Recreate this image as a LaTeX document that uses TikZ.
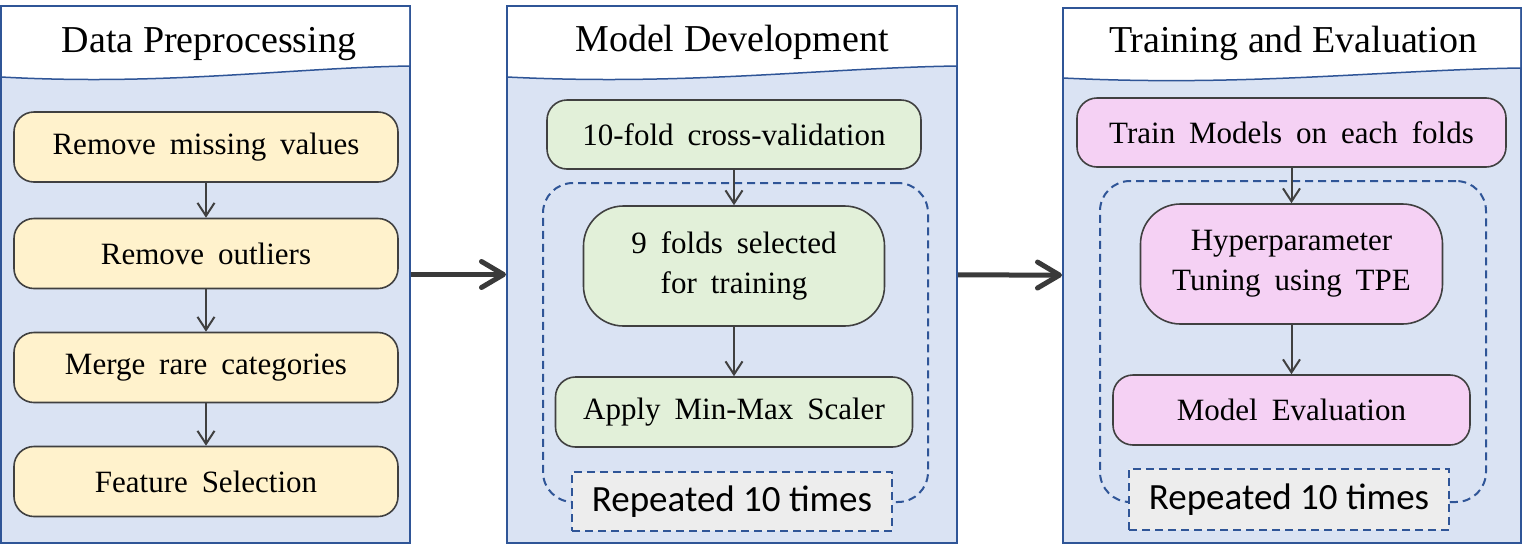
\documentclass[tikz,border=0pt]{standalone}
\usepackage{fontspec}
\setmainfont{Liberation Serif}
\newfontfamily\repfont{Carlito}
\usetikzlibrary{arrows.meta}

\definecolor{panelblue}{HTML}{DAE3F3}
\definecolor{edgeblue}{HTML}{2F5597}
\definecolor{stepyellow}{HTML}{FFF2CC}
\definecolor{stepgreen}{HTML}{E2F0D9}
\definecolor{steppink}{HTML}{F5D1F4}
\definecolor{linegray}{HTML}{404040}
\definecolor{arrowgray}{HTML}{3A3A3A}
\definecolor{repgray}{HTML}{EDEDED}
\newcommand{\widespaces}{\spaceskip=0.45em plus 0.1em\relax}

\begin{document}
\begin{tikzpicture}[x=1pt,y=-1pt,
    panel/.style={shape=rectangle,draw=edgeblue,line width=2pt,fill=panelblue,inner sep=0pt},
    wave/.style={draw=edgeblue,line width=1.5pt},
    headtext/.style={anchor=base,font=\rmfamily\fontsize{38}{44}\selectfont},
    stepbox/.style={shape=rectangle,rounded corners=20pt,draw=linegray,line width=1.6pt,align=center,inner sep=0pt,font=\rmfamily\fontsize{31}{40}\selectfont\widespaces},
    bigbox/.style={stepbox,rounded corners=40pt},
    repeatloop/.style={shape=rectangle,draw=edgeblue,line width=2pt,dash pattern=on 8pt off 5pt,rounded corners=30pt,inner sep=0pt},
    repbox/.style={shape=rectangle,draw=edgeblue,line width=2pt,dash pattern=on 8pt off 5pt,fill=repgray,inner sep=0pt,font=\repfont\fontsize{37}{44}\selectfont},
    >={Straight Barb[length=13pt,width=17pt]},
    flow/.style={->,draw=linegray,line width=2pt},
    bigflow/.style={-{Straight Barb[length=22pt,width=26pt,round]},draw=arrowgray,line width=5pt}]
    \useasboundingbox (0,0) rectangle (1524,547);

    % panels
    \node[panel,minimum width=409pt,minimum height=537pt] (p1) at (205.5,274.5) {};
    \node[panel,minimum width=450pt,minimum height=537pt] (p2) at (732,274.5) {};
    \node[panel,minimum width=458pt,minimum height=535pt] (p3) at (1292,275.5) {};

    % panel headers
    \fill[white] (2,7) -- (2,77) .. controls (165,86) and (287,68) .. (409,66) -- (409,7) -- cycle;
    \draw[wave] (1,77) .. controls (165,86) and (287,68) .. (410,66);
    \fill[white] (508,7) -- (508,77) .. controls (687,86) and (822,68) .. (956,66) -- (956,7) -- cycle;
    \draw[wave] (507,77) .. controls (687,86) and (822,68) .. (957,66);
    \fill[white] (1064,9) -- (1064,78) .. controls (1246,87) and (1384,70) .. (1520,68) -- (1520,9) -- cycle;
    \draw[wave] (1063,78) .. controls (1246,87) and (1384,70) .. (1521,68);

    \node[headtext] (h1) at (209,52) {Data Preprocessing};
    \node[headtext] (h2) at (732,51) {Model Development};
    \node[headtext] (h3) at (1293,52) {Training and Evaluation};

    % data preprocessing
    \node[stepbox,fill=stepyellow,minimum width=384pt,minimum height=70pt] (a1) at (206,147) {Remove missing values};
    \node[stepbox,fill=stepyellow,minimum width=384pt,minimum height=70pt] (a2) at (206,253.5) {Remove outliers};
    \node[stepbox,fill=stepyellow,minimum width=384pt,minimum height=70pt] (a3) at (206,367.5) {Merge rare categories};
    \node[stepbox,fill=stepyellow,minimum width=384pt,minimum height=70pt] (a4) at (206,481.5) {Feature Selection};

    \path [flow] (a1) edge (a2);
    \path [flow] (a2) edge (a3);
    \path [flow] (a3) edge (a4);

    % model development
    \node[repeatloop,minimum width=385pt,minimum height=319pt] (l2) at (735.5,342.5) {};
    \node[stepbox,fill=stepgreen,minimum width=374pt,minimum height=69pt] (b1) at (734,134.5) {10-fold cross-validation};
    \node[bigbox,fill=stepgreen,minimum width=301pt,minimum height=120pt] (b2) at (734,266) {9 folds selected\\for training};
    \node[stepbox,fill=stepgreen,minimum width=357pt,minimum height=70pt] (b3) at (734,412) {Apply Min-Max Scaler};
    \node[repbox,minimum width=320pt,minimum height=59pt] (r2) at (732,501.5) {Repeated 10 times};

    \path [flow] (b1) edge (b2);
    \path [flow] (b2) edge (b3);

    % training and evaluation
    \node[repeatloop,minimum width=386pt,minimum height=321pt] (l3) at (1293,341.5) {};
    \node[stepbox,fill=steppink,minimum width=429pt,minimum height=69pt] (c1) at (1291.5,132.5) {Train Models on each folds};
    \node[bigbox,fill=steppink,minimum width=302pt,minimum height=120pt] (c2) at (1291.5,264) {Hyperparameter\\Tuning using TPE};
    \node[stepbox,fill=steppink,minimum width=357pt,minimum height=70pt] (c3) at (1291.5,410) {Model Evaluation};
    \node[repbox,minimum width=320pt,minimum height=61pt] (r3) at (1289,499.5) {Repeated 10 times};

    \path [flow] (c1) edge (c2);
    \path [flow] (c2) edge (c3);

    % between panels
    \path [bigflow] (p1) edge (p2);
    \path [bigflow] (p2) edge (p3);
\end{tikzpicture}
\end{document}
